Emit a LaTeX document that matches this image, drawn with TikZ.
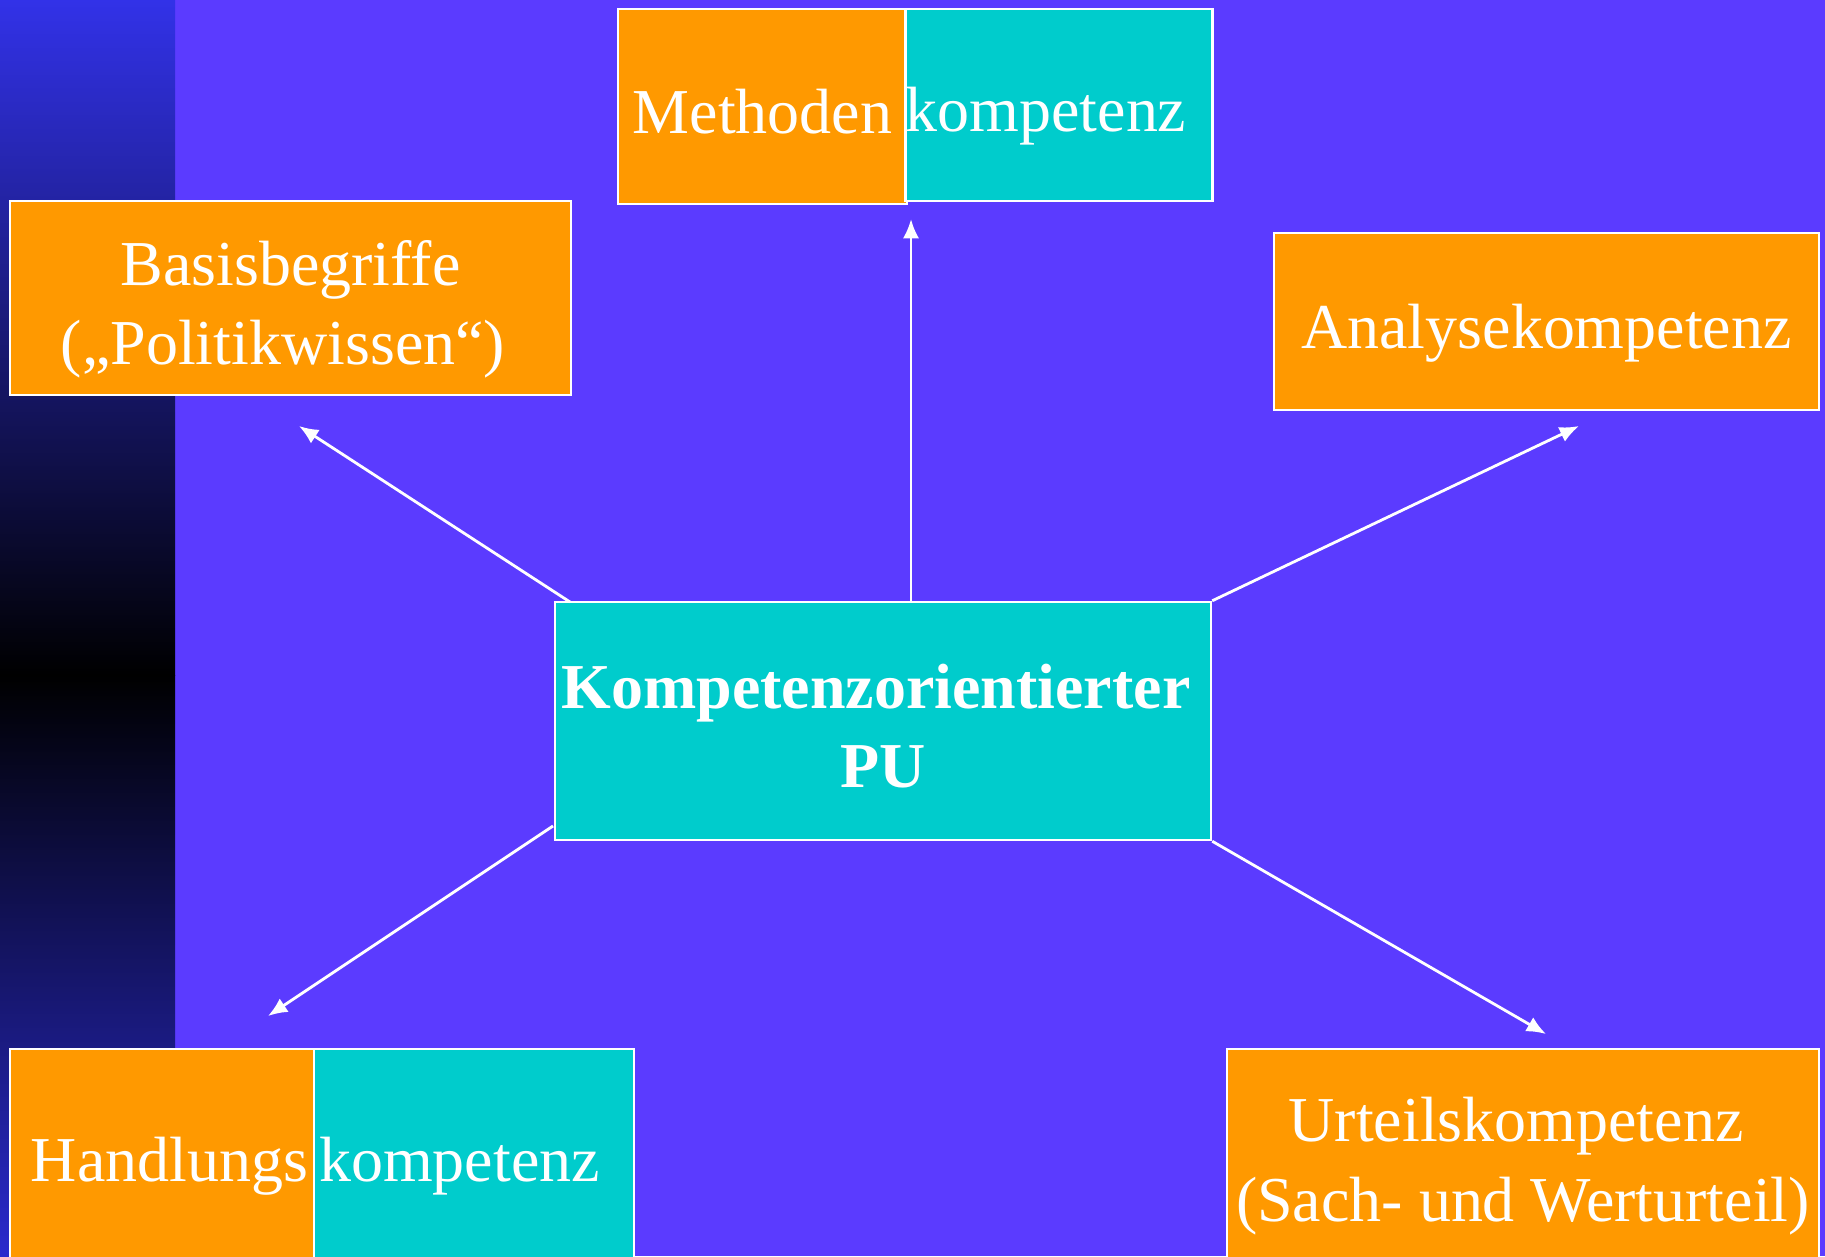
\documentclass[tikz,border=0pt]{standalone}
\usepackage{fontspec}
\setmainfont{Liberation Serif}
\usetikzlibrary{arrows.meta}
\definecolor{bgviolet}{RGB}{91,59,255}
\definecolor{korange}{RGB}{255,153,0}
\definecolor{kteal}{RGB}{0,204,204}
\definecolor{striptop}{RGB}{50,50,232}
\definecolor{stripbot}{RGB}{42,42,205}
\newcommand{\boxfont}{\fontsize{18.2}{22.5}\selectfont}
\tikzset{
  kbox/.style={draw=white, line width=0.7pt, text=white, font=\boxfont,
    align=center, inner sep=0pt, text depth=0.16cm},
  oneline/.style={text height=0.70cm},
  twoline/.style={text height=1.49cm},
  pfeil/.style={->, draw=white, line width=0.8pt},
}

\begin{document}
\begin{tikzpicture}[>={Latex[length=5.5pt,width=4.6pt]}]
\useasboundingbox (0,0) rectangle (18.25,-12.56);
\clip (0,0) rectangle (18.25,-12.56);
\fill[bgviolet] (0,0) rectangle (18.25,-12.56);
\shade[top color=striptop, bottom color=black] (0,0) rectangle (1.75,-6.75);
\shade[top color=black, bottom color=stripbot] (0,-6.75) rectangle (1.75,-12.56);

\node[kbox, oneline, fill=korange, minimum width=2.89cm, minimum height=1.95cm] at (7.625,-1.065) (methA) {Methoden};
\node[kbox, oneline, fill=kteal, minimum width=3.04cm, minimum height=1.92cm] at (10.59,-1.05) (methB) {kompetenz\hspace*{0.26cm}};
\node[kbox, twoline, fill=korange, minimum width=5.61cm, minimum height=1.94cm] at (2.905,-2.98) (basis) {Basisbegriffe\\(„Politikwissen“)\hspace*{0.15cm}};
\node[kbox, oneline, fill=korange, minimum width=5.45cm, minimum height=1.77cm] at (15.465,-3.215) (analyse) {Analysekompetenz};
\node[kbox, twoline, fill=kteal, font=\boxfont\bfseries, minimum width=6.56cm, minimum height=2.38cm] at (8.83,-7.21) (kpu) {Kompetenzorientierter\hspace*{0.14cm}\\PU};
\node[kbox, oneline, fill=korange, minimum width=3.04cm, minimum height=2.11cm] at (1.62,-11.545) (handA) {\hspace*{0.15cm}Handlungs};
\node[kbox, oneline, fill=kteal, minimum width=3.20cm, minimum height=2.11cm] at (4.74,-11.545) (handB) {\hspace*{-0.1cm}kompetenz\hspace*{0.19cm}};
\node[kbox, twoline, fill=korange, minimum width=5.92cm, minimum height=2.11cm] at (15.23,-11.545) (urteil) {Urteilskompetenz\hspace*{0.14cm}\\(Sach- und Werturteil)};

% arrow ends stop short of the boxes
\coordinate (sMeth) at (9.11,-6.02);
\coordinate (sBasis) at (5.70,-6.02);
\coordinate (sHand) at (5.53,-8.26);
\coordinate (tMeth) at (9.11,-2.19);
\coordinate (tBasis) at (2.99,-4.26);
\coordinate (tAnal) at (15.79,-4.26);
\coordinate (tHand) at (2.68,-10.16);
\coordinate (tUrt) at (15.46,-10.34);
\draw[pfeil] (sMeth) -- (tMeth);
\draw[pfeil] (sBasis) -- (tBasis);
\draw[pfeil] (kpu.north east) -- (tAnal);
\draw[pfeil] (sHand) -- (tHand);
\draw[pfeil] (kpu.south east) -- (tUrt);
\end{tikzpicture}
\end{document}
